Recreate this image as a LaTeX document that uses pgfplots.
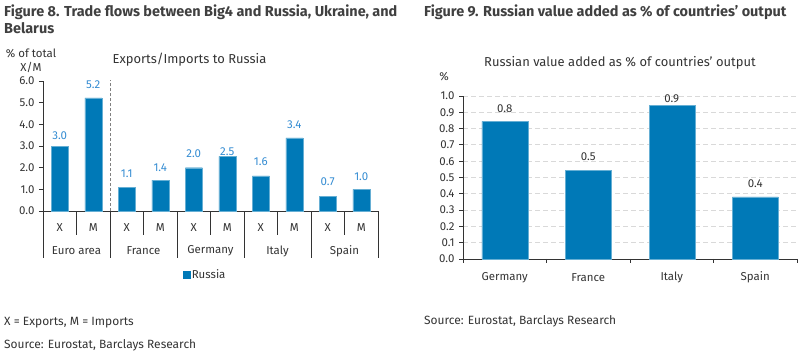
\documentclass[border=0pt]{standalone}
\usepackage{fontspec}
\setmainfont{Fira Sans}
\usepackage{pgfplots}
\usepackage{pgfplotstable}
\pgfplotsset{compat=1.18}
\definecolor{barblue}{RGB}{0,121,183}
\definecolor{lblblue}{RGB}{52,140,210}
\definecolor{titlegrey}{RGB}{64,64,64}
\definecolor{txt}{RGB}{51,51,51}
\definecolor{gridgrey}{RGB}{217,217,217}
\newcommand{\sq}{{\char"27}}

\pgfplotstableread{
x y off
0 2.98 11
1 5.22 13
2 1.09 14
3 1.42 13
4 2.00 14
5 2.52 5
6 1.62 14
7 3.38 13
8 0.67 15
9 1.00 13
}\leftdata

\pgfplotstableread{
x y off
0 0.845 13
1 0.544 13.5
3 0.381 13.5
}\rightdata
\pgfplotstableread{
x y off
2 0.945 6
}\rightitaly

\begin{document}
\begin{tikzpicture}[font=\fontsize{11.5}{13}\selectfont, text=txt]
\path[use as bounding box] (0,0) rectangle (806bp,354bp);
% titles
\node[anchor=base west, font=\bfseries\fontsize{14.5}{16}\selectfont, text=titlegrey, inner sep=0pt] at (4bp,{(354-16.5)*1bp}) {Figure 8. Trade flows between Big4 and Russia, Ukraine, and};
\node[anchor=base west, font=\bfseries\fontsize{14.5}{16}\selectfont, text=titlegrey, inner sep=0pt] at (4bp,{(354-33.5)*1bp}) {Belarus};
\node[anchor=base west, font=\bfseries\fontsize{14.5}{16}\selectfont, text=titlegrey, inner sep=0pt] at (424bp,{(354-16)*1bp}) {Figure 9. Russian value added as \% of countries\sq{} output};
% subtitles
\node[anchor=base, font=\fontsize{13}{15}\selectfont, inner sep=0pt] at (189.5bp,{(354-63)*1bp}) {Exports/Imports to Russia};
\node[anchor=base, font=\fontsize{13}{15}\selectfont, inner sep=0pt] at (620bp,{(354-66.5)*1bp}) {Russian value added as \% of countries\sq{} output};
\node[anchor=base, inner sep=0pt] at (31bp,{(354-57)*1bp}) {\% of total};
\node[anchor=base, inner sep=0pt] at (31bp,{(354-71)*1bp}) {X/M};
\node[anchor=base, inner sep=0pt] at (444bp,{(354-80)*1bp}) {\%};
% footnotes
\node[anchor=base west, inner sep=0pt, font=\fontsize{12}{14}\selectfont] at (4bp,{(354-325)*1bp}) {X = Exports, M = Imports};
\node[anchor=base west, inner sep=0pt, font=\fontsize{12}{14}\selectfont] at (4bp,{(354-348)*1bp}) {Source: Eurostat, Barclays Research};
\node[anchor=base west, inner sep=0pt, font=\fontsize{12}{14}\selectfont] at (424bp,{(354-324)*1bp}) {Source: Eurostat, Barclays Research};

% left chart
\begin{axis}[
  at={(43bp,143bp)}, anchor=south west, scale only axis,
  width=335bp, height=130bp,
  xmin=-0.5, xmax=9.5, ymin=0, ymax=6,
  axis x line=bottom, axis y line=left,
  axis line style={-, draw=txt, line width=0.8pt},
  clip=false,
  /pgf/number format/assume math mode=true,
  ytick={0,1,2,3,4,5,6},
  yticklabel style={/pgf/number format/.cd, fixed, fixed zerofill, precision=1, /tikz/.cd, text=txt, xshift=-1bp},
  ytick style={draw=txt, line width=0.8pt},
  tick align=outside, major tick length=4bp,
  xtick={0,1,2,3,4,5,6,7,8,9},
  xticklabels={X,M,X,M,X,M,X,M,X,M},
  xtick style={draw=none},
  xticklabel style={anchor=center, yshift=-13bp},
  ybar, bar width=17bp,
  legend style={at={(0.484,-0.49)}, anchor=center, draw=none, fill=none, text=txt, inner sep=1bp},
]
\addplot[fill=barblue, draw=barblue!60!white, line width=0.3pt,
  visualization depends on={\thisrow{off}\as\off},
  nodes near coords={\pgfmathprintnumber[fixed,fixed zerofill,precision=1]{\pgfplotspointmeta}},
  every node near coord/.append style={anchor=center, yshift=\off*1bp, text=lblblue, font=\fontsize{11.5}{13}\selectfont},
  legend image code/.code={\fill[barblue] (0bp,-3.3bp) rectangle (6.7bp,3.4bp);}
] table[x=x,y=y] {\leftdata};
\addlegendentry{Russia}
\draw[densely dashed, gray, line width=0.8pt] (axis cs:1.5,0) -- (axis cs:1.5,6.05);
\pgfplotsinvokeforeach{0.5,2.5,4.5,6.5,8.5}{\draw[txt, line width=0.8pt] (axis cs:#1,0) -- ++(0pt,-24bp);}
\pgfplotsinvokeforeach{-0.5,1.5,3.5,5.5,7.5,9.5}{\draw[txt, line width=0.8pt] (axis cs:#1,0) -- ++(0pt,-47bp);}
\node[anchor=center] at ([yshift=-40bp]axis cs:0.5,0) {Euro area};
\node[anchor=center] at ([yshift=-40bp]axis cs:2.5,0) {France};
\node[anchor=center] at ([yshift=-40bp]axis cs:4.5,0) {Germany};
\node[anchor=center] at ([yshift=-40bp]axis cs:6.5,0) {Italy};
\node[anchor=center] at ([yshift=-40bp]axis cs:8.5,0) {Spain};
\end{axis}

% right chart
\begin{axis}[
  at={(463bp,95bp)}, anchor=south west, scale only axis,
  width=334bp, height=163bp,
  xmin=-0.5, xmax=3.5, ymin=0, ymax=1,
  axis x line=bottom, axis y line=left,
  axis line style={-, draw=txt, line width=0.8pt},
  clip=false,
  /pgf/number format/assume math mode=true,
  ytick={0,0.1,0.2,0.3,0.4,0.5,0.6,0.7,0.8,0.9,1.0},
  yticklabel style={/pgf/number format/.cd, fixed, fixed zerofill, precision=1, /tikz/.cd, text=txt, xshift=-1bp},
  ytick style={draw=txt, line width=0.8pt},
  tick align=outside, major tick length=4bp,
  ymajorgrids, grid style={dash pattern=on 5bp off 3bp, gridgrey, line width=0.8pt},
  xtick={0,1,2,3},
  xticklabels={Germany,France,Italy,Spain},
  xtick style={draw=none},
  xticklabel style={anchor=center, yshift=-14.5bp},
  ybar, bar width=46bp, bar shift=0pt,
]
\addplot[fill=barblue, draw=barblue!60!white, line width=0.3pt,
  visualization depends on={\thisrow{off}\as\off},
  nodes near coords={\pgfmathprintnumber[fixed,fixed zerofill,precision=1]{\pgfplotspointmeta}},
  every node near coord/.append style={anchor=center, yshift=\off*1bp, text=txt, font=\fontsize{11.5}{13}\selectfont},
] table[x=x,y=y] {\rightdata};
\addplot[fill=barblue, draw=barblue!60!white, line width=0.3pt,
  visualization depends on={\thisrow{off}\as\off},
  nodes near coords={\pgfmathprintnumber[fixed,fixed zerofill,precision=1]{\pgfplotspointmeta}},
  every node near coord/.append style={anchor=center, yshift=\off*1bp, text=txt, font=\fontsize{11.5}{13}\selectfont},
] table[x=x,y=y] {\rightitaly};
\pgfplotsinvokeforeach{-0.5,0.5,1.5,2.5,3.5}{\draw[txt, line width=0.8pt] (axis cs:#1,0) -- ++(0pt,-4bp);}
\end{axis}
\end{tikzpicture}
\end{document}
